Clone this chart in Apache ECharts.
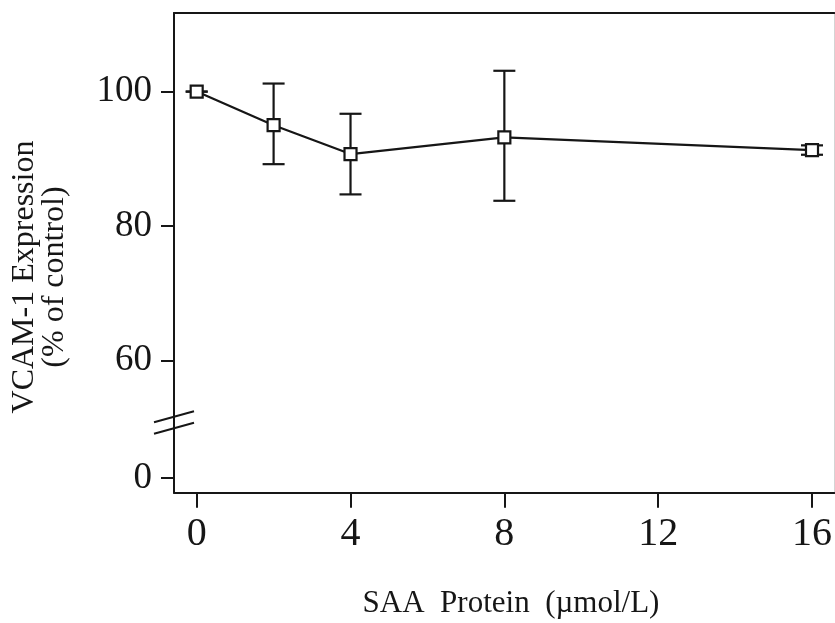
<!DOCTYPE html>
<html>
<head>
<meta charset="utf-8">
<script src="https://cdn.jsdelivr.net/npm/echarts@6/dist/echarts.min.js"></script>
<style>
html,body{margin:0;padding:0;background:#fff;}
#chart{width:835px;height:623px;}
</style>
</head>
<body>
<div id="chart"></div>
<script>
// Data
const saaDose = [0, 2, 4, 8, 16];                 // µmol/L
const vcamMean = [100, 95.0, 90.7, 93.2, 91.3];    // % of control
const vcamLow  = [100, 89.2, 84.7, 83.75, 90.6];
const vcamHigh = [100, 101.2, 96.7, 103.1, 92.0];
const xTickValues = [0, 4, 8, 12, 16];
const yTickLabels = [0, 60, 80, 100];
// The axis is broken: value 0 is drawn just below the break
const brokenZeroAt = 42.5;

const yTickPos = yTickLabels.map(v => v === 0 ? brokenZeroAt : v);

const chart = echarts.init(document.getElementById('chart'), null, {renderer: 'canvas'});
const ink = '#161616';
const serif = '"Liberation Serif", "DejaVu Serif", serif';

const option = {
  animation: false,
  backgroundColor: '#ffffff',
  grid: {left: 174, right: 0, top: 13, bottom: 130.3, show: false},
  xAxis: [{
    type: 'value', min: -0.59, max: 16.58,
    axisLine: {show: true, onZero: false, lineStyle: {color: ink, width: 2}},
    axisTick: {show: true, customValues: xTickValues, length: 15, inside: false, lineStyle: {color: ink, width: 2}},
    axisLabel: {customValues: xTickValues, fontFamily: serif, fontSize: 40, color: ink, margin: 22},
    splitLine: {show: false}
  }, {
    type: 'value', position: 'top', min: -0.59, max: 16.58,
    axisLine: {show: true, onZero: false, lineStyle: {color: ink, width: 2}},
    axisTick: {show: false}, axisLabel: {show: false}, splitLine: {show: false}
  }],
  yAxis: [{
    type: 'value', min: 40.3, max: 111.7,
    axisLine: {show: true, onZero: false, lineStyle: {color: ink, width: 2}},
    axisTick: {show: true, customValues: yTickPos, length: 13, lineStyle: {color: ink, width: 2}},
    axisLabel: {
      customValues: yTickPos, fontFamily: serif, fontSize: 37, color: ink, margin: 22,
      formatter: v => { const i = yTickPos.indexOf(v); return i >= 0 ? String(yTickLabels[i]) : ''; }
    },
    splitLine: {show: false}
  }, {
    type: 'value', position: 'right', min: 40.3, max: 111.7,
    axisLine: {show: true, onZero: false, lineStyle: {color: '#d4d4d4', width: 1}},
    axisTick: {show: false}, axisLabel: {show: false}, splitLine: {show: false}
  }],
  series: [{
    type: 'custom',
    name: 'err',
    renderItem: function (params, api) {
      const x = api.value(0), lo = api.value(1), hi = api.value(2);
      const pLo = api.coord([x, lo]);
      const pHi = api.coord([x, hi]);
      const hw = 11;
      const st = {stroke: ink, lineWidth: 2.2, fill: null};
      return {
        type: 'group',
        children: [
          {type: 'line', shape: {x1: pLo[0], y1: pLo[1], x2: pHi[0], y2: pHi[1]}, style: st},
          {type: 'line', shape: {x1: pLo[0] - hw, y1: pLo[1], x2: pLo[0] + hw, y2: pLo[1]}, style: st},
          {type: 'line', shape: {x1: pHi[0] - hw, y1: pHi[1], x2: pHi[0] + hw, y2: pHi[1]}, style: st}
        ]
      };
    },
    data: saaDose.map((d, i) => [d, vcamLow[i], vcamHigh[i]]),
    z: 2
  }, {
    type: 'line',
    data: saaDose.map((d, i) => [d, vcamMean[i]]),
    lineStyle: {color: ink, width: 2.2},
    symbol: 'rect', symbolSize: 12,
    itemStyle: {color: '#ffffff', borderColor: ink, borderWidth: 2.2},
    z: 3
  }]
};
chart.setOption(option);

// axis-break marks and titles
function buildGraphics() {
  const axisX = chart.convertToPixel({xAxisIndex: 0}, -0.59);
  const yA = chart.convertToPixel({yAxisIndex: 0}, 51.6);
  const yB = chart.convertToPixel({yAxisIndex: 0}, 49.9);
  const half = 20, rise = 5.5;
  const st = {stroke: ink, lineWidth: 2};
  chart.setOption({
    graphic: [
      {type: 'line', shape: {x1: axisX - half, y1: yA + rise, x2: axisX + half, y2: yA - rise}, style: st, z: 10},
      {type: 'line', shape: {x1: axisX - half, y1: yB + rise, x2: axisX + half, y2: yB - rise}, style: st, z: 10},
      {type: 'text', x: 40, y: 277, rotation: Math.PI / 2,
       style: {text: 'VCAM-1 Expression\n(% of control)', font: '32px ' + serif, fill: ink,
               align: 'center', verticalAlign: 'middle', lineHeight: 30}},
      {type: 'text', x: 511, y: 604,
       style: {text: 'SAA  Protein  (\u00b5mol/L)', font: '31px ' + serif, fill: ink,
               align: 'center', verticalAlign: 'middle'}}
    ]
  });
}
buildGraphics();
</script>
</body>
</html>
